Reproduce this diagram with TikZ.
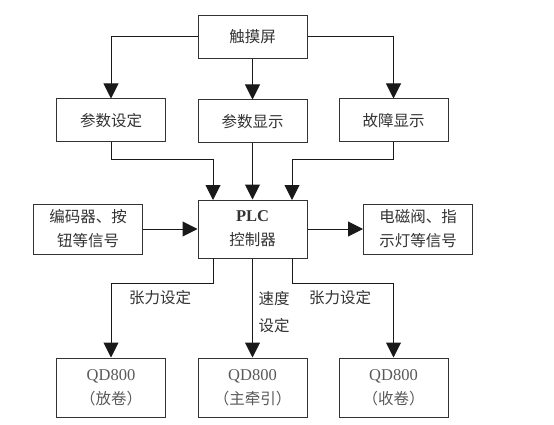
\documentclass[tikz,border=0pt]{standalone}
\usepackage{fontspec}
\setmainfont{Liberation Serif}
\newfontfamily\cjk{Noto Sans CJK SC}
\newcommand{\lat}{\rmfamily\fontsize{16.5}{24}\selectfont}
\usetikzlibrary{arrows.meta}
\begin{document}
\begin{tikzpicture}[x=1pt,y=-1pt,
  box/.style={draw=black!80,line width=1pt,minimum width=109pt,minimum height=43pt,inner sep=0pt,
    font=\fontsize{15.5}{24}\selectfont\cjk,text=black!80,align=center},
  conn/.style={draw=black!90,line width=1pt},
  arr/.style={conn,-{Triangle[width=15pt,length=15pt]}},
  lbl/.style={font=\fontsize{15.5}{27}\selectfont\cjk,text=black!80,align=center,inner sep=0pt}]
\useasboundingbox (0,0) rectangle (554,425);
\node[box] (ts) at (252.5,37) {触摸屏};
\node[box] (ps) at (111,120.5) {参数设定};
\node[box] (pd) at (252.5,121.5) {参数显示};
\node[box] (fd) at (393.5,120.5) {故障显示};
\node[box,minimum height=58pt] (plc) at (252.5,229) {{\lat\bfseries PLC}\\控制器};
\node[box,minimum height=50pt] (in) at (88,229) {编码器、按\\钮等信号};
\node[box,minimum height=50pt] (out) at (418,229) {电磁阀、指\\示灯等信号};
\node[box,minimum height=59pt,text=black!65] (q1) at (111,387.5) {{\lat QD800}\\（放卷）};
\node[box,minimum height=59pt,text=black!65] (q2) at (252.5,387.5) {{\lat QD800}\\（主牵引）};
\node[box,minimum height=59pt,text=black!65] (q3) at (393.5,387.5) {{\lat QD800}\\（收卷）};
\coordinate (a1) at (213,200);
\coordinate (a3) at (292,200);
\coordinate (b1) at (213,258);
\coordinate (b3) at (292,258);
\draw[arr] (ts.west) -| (ps.north);
\draw[arr] (ts.south) -- (pd.north);
\draw[arr] (ts.east) -| (fd.north);
\draw[arr] (ps.south) |- (213,159) -- (a1);
\draw[arr] (pd.south) -- (plc.north);
\draw[arr] (fd.south) |- (292,159) -- (a3);
\draw[arr] (in.east) -- (plc.west);
\draw[arr] (plc.east) -- (out.west);
\draw[arr] (b1) |- (111,283) -- (q1.north);
\draw[arr] (plc.south) -- (q2.north);
\draw[arr] (b3) |- (393.5,283) -- (q3.north);
\node[lbl] (l1) at (160,298) {张力设定};
\node[lbl] (l2) at (274,312) {速度\\设定};
\node[lbl] (l3) at (340,298) {张力设定};
\end{tikzpicture}
\end{document}
